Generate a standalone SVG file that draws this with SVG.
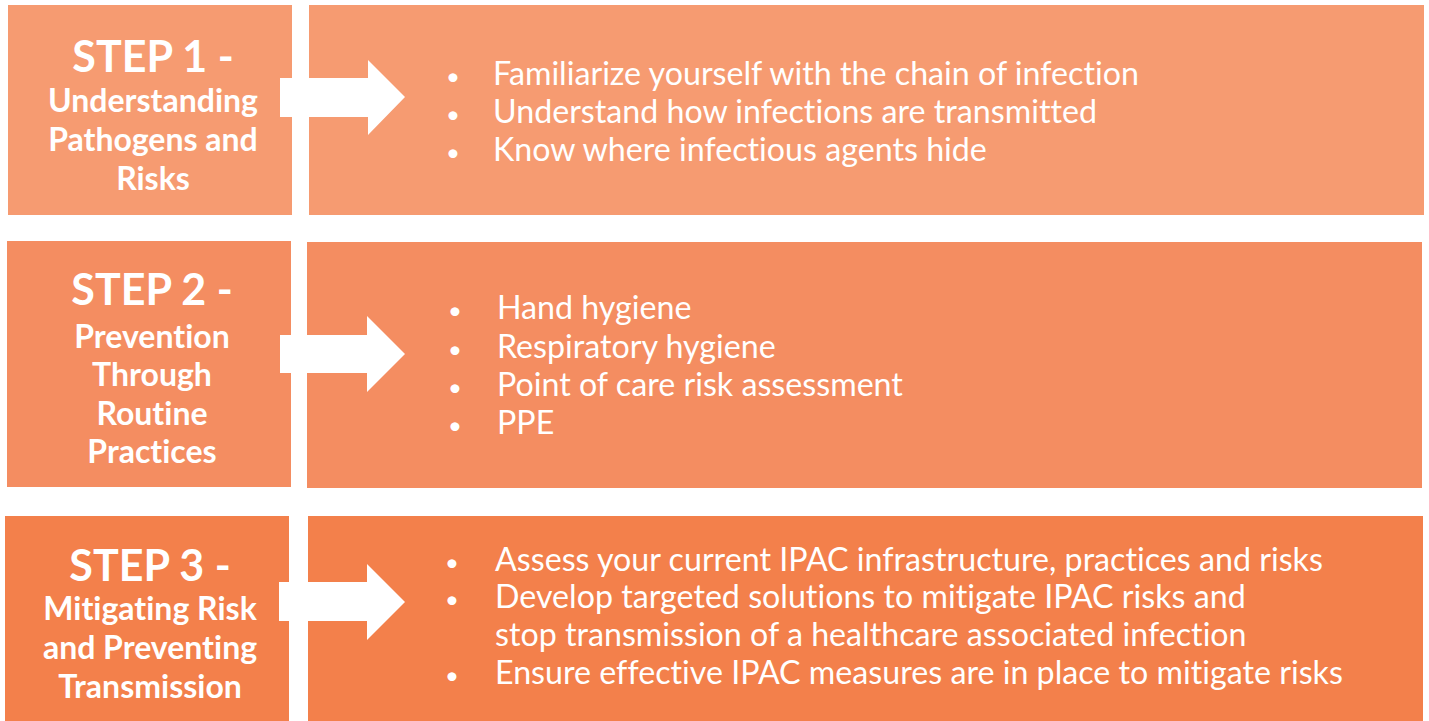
<svg xmlns="http://www.w3.org/2000/svg" width="1429" height="721" viewBox="0 0 1429 721">
  <style>
    .c1 { fill: #F69B71; }
    .c2 { fill: #F48D61; }
    .c3 { fill: #F3804B; }
    .arrow { fill: #FFFFFF; }
    text { font-variant-ligatures: none; }
    .step { font-family: Lato, "Liberation Sans", sans-serif; font-weight: 700; font-size: 43px; fill: #FFFFFF; text-anchor: middle; }
    .sub { font-family: Lato, "Liberation Sans", sans-serif; font-weight: 700; font-size: 32px; fill: #FFFFFF; text-anchor: middle; }
    .item { font-family: Lato, "Liberation Sans", sans-serif; font-weight: 400; font-size: 32.2px; fill: #FFFFFF; }
    .dot { font-family: Lato, "Liberation Sans", sans-serif; font-size: 24px; fill: #FFFFFF; }
  </style>
  <rect width="1429" height="721" fill="#FFFFFF"/>

  <!-- Step 1 -->
  <g id="step1">
    <rect class="c1" x="8" y="5" width="284" height="210"/>
    <text class="step" x="153" y="72">STEP 1 -</text>
    <text class="sub" x="153" y="112">Understanding</text>
    <text class="sub" x="153" y="151">Pathogens and</text>
    <text class="sub" x="153" y="190">Risks</text>
  </g>
  <g id="detail1">
    <rect class="c1" x="309" y="5" width="1115" height="210"/>
    <text class="dot" x="446" y="85">•</text>
    <text class="item" x="493" y="85">Familiarize yourself with the chain of infection</text>
    <text class="dot" x="446" y="123">•</text>
    <text class="item" x="493" y="123">Understand how infections are transmitted</text>
    <text class="dot" x="446" y="161">•</text>
    <text class="item" x="493" y="161">Know where infectious agents hide</text>
  </g>

  <!-- Step 2 -->
  <g id="step2">
    <rect class="c2" x="7" y="241" width="284" height="246"/>
    <text class="step" x="152" y="305">STEP 2 -</text>
    <text class="sub" x="152" y="348">Prevention</text>
    <text class="sub" x="152" y="386">Through</text>
    <text class="sub" x="152" y="425">Routine</text>
    <text class="sub" x="152" y="463">Practices</text>
  </g>
  <g id="detail2">
    <rect class="c2" x="307" y="242" width="1115" height="246"/>
    <text class="dot" x="448" y="319">•</text>
    <text class="item" x="497" y="319">Hand hygiene</text>
    <text class="dot" x="448" y="358">•</text>
    <text class="item" x="497" y="358">Respiratory hygiene</text>
    <text class="dot" x="448" y="396">•</text>
    <text class="item" x="497" y="396">Point of care risk assessment</text>
    <text class="dot" x="448" y="434">•</text>
    <text class="item" x="497" y="434">PPE</text>
  </g>

  <!-- Step 3 -->
  <g id="step3">
    <rect class="c3" x="5" y="516" width="284" height="205"/>
    <text class="step" x="150" y="581">STEP 3 -</text>
    <text class="sub" x="150" y="620">Mitigating Risk</text>
    <text class="sub" x="150" y="659">and Preventing</text>
    <text class="sub" x="150" y="698">Transmission</text>
  </g>
  <g id="detail3">
    <rect class="c3" x="308" y="516" width="1115" height="205"/>
    <text class="dot" x="445" y="571">•</text>
    <text class="item" x="495" y="571">Assess your current IPAC infrastructure, practices and risks</text>
    <text class="dot" x="445" y="608">•</text>
    <text class="item" x="495" y="608">Develop targeted solutions to mitigate IPAC risks and</text>
    <text class="item" x="495" y="646">stop transmission of a healthcare associated infection</text>
    <text class="dot" x="445" y="684">•</text>
    <text class="item" x="495" y="684">Ensure effective IPAC measures are in place to mitigate risks</text>
  </g>

  <!-- Connectors: block arrows from each step to its detail panel -->
  <g id="connectors">
    <polygon class="arrow" points="280,78 368,78 368,60 405,97 368,135 368,117 280,117"/>
    <polygon class="arrow" points="280,335 367,335 367,316 405,354 367,392 367,373 280,373"/>
    <polygon class="arrow" points="279,582 367,582 367,564 405,602 367,640 367,621 279,621"/>
  </g>
</svg>
